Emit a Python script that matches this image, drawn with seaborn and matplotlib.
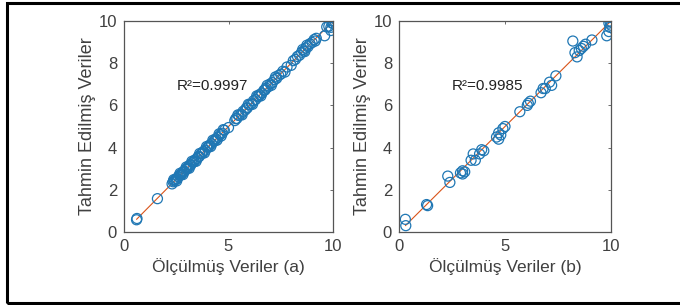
import matplotlib.pyplot as plt
import numpy as np
import pandas as pd
import seaborn as sns
from matplotlib.patches import Rectangle

sns.set_style('white')
plt.rcParams['font.family'] = ['Liberation Sans', 'DejaVu Sans']

# (a) olculmus / tahmin edilen
meas_a = [0.6, 0.62, 1.6, 2.3, 2.35, 2.4, 2.45, 2.5, 2.55, 2.6, 2.65, 2.7, 2.75, 2.8,
          2.85, 2.9, 2.95, 3.0, 3.05, 3.1, 3.15, 3.2, 3.3, 3.35, 3.4, 3.5, 3.55, 3.6,
          3.7, 3.75, 3.8, 3.9, 4.0, 4.05, 4.1, 4.2, 4.3, 4.35, 4.4, 4.5, 4.6, 4.7,
          4.8, 5.0, 5.3, 5.35, 5.4, 5.5, 5.6, 5.7, 5.8, 5.85, 5.9, 6.0, 6.1, 6.2,
          6.3, 6.4, 6.45, 6.5, 6.6, 6.7, 6.75, 6.8, 6.9, 7.0, 7.1, 7.2, 7.3, 7.4,
          7.5, 7.6, 7.7, 7.8, 8.0, 8.1, 8.2, 8.3, 8.4, 8.5, 8.6, 8.7, 8.8, 8.9,
          9.0, 9.1, 9.2, 9.6, 9.7, 9.8, 9.9, 9.95, 10.0, 10.0, 9.9, 9.95,
          2.38, 2.52, 2.68, 2.82, 2.98, 3.12, 3.25, 3.45, 3.62, 3.85, 3.95, 4.15,
          4.25, 4.45, 4.55, 4.65, 4.75, 5.45, 5.65, 5.95, 6.15, 6.35, 6.55, 6.85,
          7.05, 7.25, 8.55, 8.65, 8.75, 9.15]
pred_a = [0.58, 0.64, 1.58, 2.28, 2.38, 2.42, 2.47, 2.52, 2.53, 2.62, 2.68, 2.72, 2.73, 2.82,
          2.87, 2.88, 2.97, 3.02, 3.03, 3.12, 3.17, 3.18, 3.32, 3.33, 3.42, 3.48, 3.57, 3.58,
          3.72, 3.73, 3.82, 3.88, 4.02, 4.03, 4.12, 4.18, 4.32, 4.33, 4.42, 4.48, 4.62, 4.68,
          4.82, 4.95, 5.28, 5.37, 5.38, 5.52, 5.58, 5.72, 5.78, 5.87, 5.88, 6.02, 6.08, 6.22,
          6.28, 6.42, 6.43, 6.52, 6.58, 6.72, 6.73, 6.82, 6.88, 7.02, 7.08, 7.22, 7.28, 7.42,
          7.48, 7.62, 7.58, 7.82, 7.9, 8.12, 8.18, 8.32, 8.38, 8.52, 8.58, 8.72, 8.78, 8.92,
          8.98, 9.12, 9.18, 9.3, 9.72, 9.75, 9.55, 9.9, 10.0, 9.9, 9.7, 10.02,
          2.48, 2.42, 2.78, 2.72, 3.08, 3.02, 3.35, 3.35, 3.72, 3.75, 4.05, 4.05,
          4.35, 4.35, 4.65, 4.55, 4.85, 5.55, 5.55, 6.05, 6.05, 6.45, 6.45, 6.95,
          6.95, 7.35, 8.65, 8.55, 8.85, 9.05]

# (b)
meas_b = [0.3, 0.32, 1.3, 1.35, 2.3, 2.4, 2.9, 3.0, 3.0, 3.1, 3.4, 3.5, 3.6, 3.8,
          3.9, 4.0, 4.6, 4.7, 4.7, 4.8, 4.9, 5.0, 5.7, 6.05, 6.2, 6.1, 6.7, 6.8,
          6.9, 7.1, 7.2, 7.4, 8.2, 8.3, 8.4, 8.5, 8.6, 8.7, 8.8, 9.1, 9.8, 9.9,
          9.95, 9.9, 9.95, 10.0]
pred_b = [0.6, 0.3, 1.3, 1.25, 2.65, 2.35, 2.8, 2.75, 2.9, 2.85, 3.4, 3.7, 3.4, 3.7,
          3.9, 3.85, 4.5, 4.4, 4.7, 4.6, 4.9, 5.0, 5.7, 6.0, 6.2, 6.1, 6.6, 6.8,
          6.8, 7.1, 6.95, 7.4, 9.05, 8.5, 8.3, 8.6, 8.7, 8.8, 8.9, 9.1, 9.3, 9.9,
          9.7, 9.5, 10.0, 9.8]

r2_texts = ['R²=0.9997', 'R²=0.9985']
xlabels = ['Ölçülmüş Veriler (a)', 'Ölçülmüş Veriler (b)']
ylabel = 'Tahmin Edilmiş Veriler'

fig = plt.figure(figsize=(6.8, 3.05), dpi=100)
ax1 = fig.add_axes([124 / 680, 73 / 305, 209 / 680, 211 / 305])
ax2 = fig.add_axes([399 / 680, 73 / 305, 212 / 680, 211 / 305])

txt_col = '#404040'
for ax, m, p, r2, xl in zip([ax1, ax2], [meas_a, meas_b], [pred_a, pred_b], r2_texts, xlabels):
    df = pd.DataFrame({'m': m, 'p': p})
    lo, hi = min(m), max(m)
    sns.lineplot(x=[lo, hi], y=[lo, hi], ax=ax, color='#D95319', lw=0.8, zorder=1)
    sns.scatterplot(data=df, x='m', y='p', ax=ax, marker='o', s=52,
                    facecolors='none', edgecolor='#1f77b4', linewidth=0.9, zorder=2)
    ax.set_xlim(0, 10)
    ax.set_ylim(0, 10)
    ax.set_xticks([0, 5, 10])
    ax.set_yticks([0, 2, 4, 6, 8, 10])
    ax.tick_params(direction='in', length=2.5, width=0.6, top=True, right=True,
                   labelsize=12, colors='#555555', labelcolor=txt_col, pad=5)
    for s in ax.spines.values():
        s.set_color('#555555')
        s.set_linewidth(0.9)
    ax.set_xlabel(xl, fontsize=12.5, color=txt_col, labelpad=3)
    ax.set_ylabel(ylabel, fontsize=13, color=txt_col, labelpad=2)
    ax.text(2.5, 6.9, r2, fontsize=11, color='#222222', va='center', ha='left')

fig.patches.append(Rectangle((7 / 680, 2 / 305), 1.2, 300 / 305, transform=fig.transFigure,
                             fill=False, ec='black', lw=2.2))
fig.savefig('out.png', dpi=100)
